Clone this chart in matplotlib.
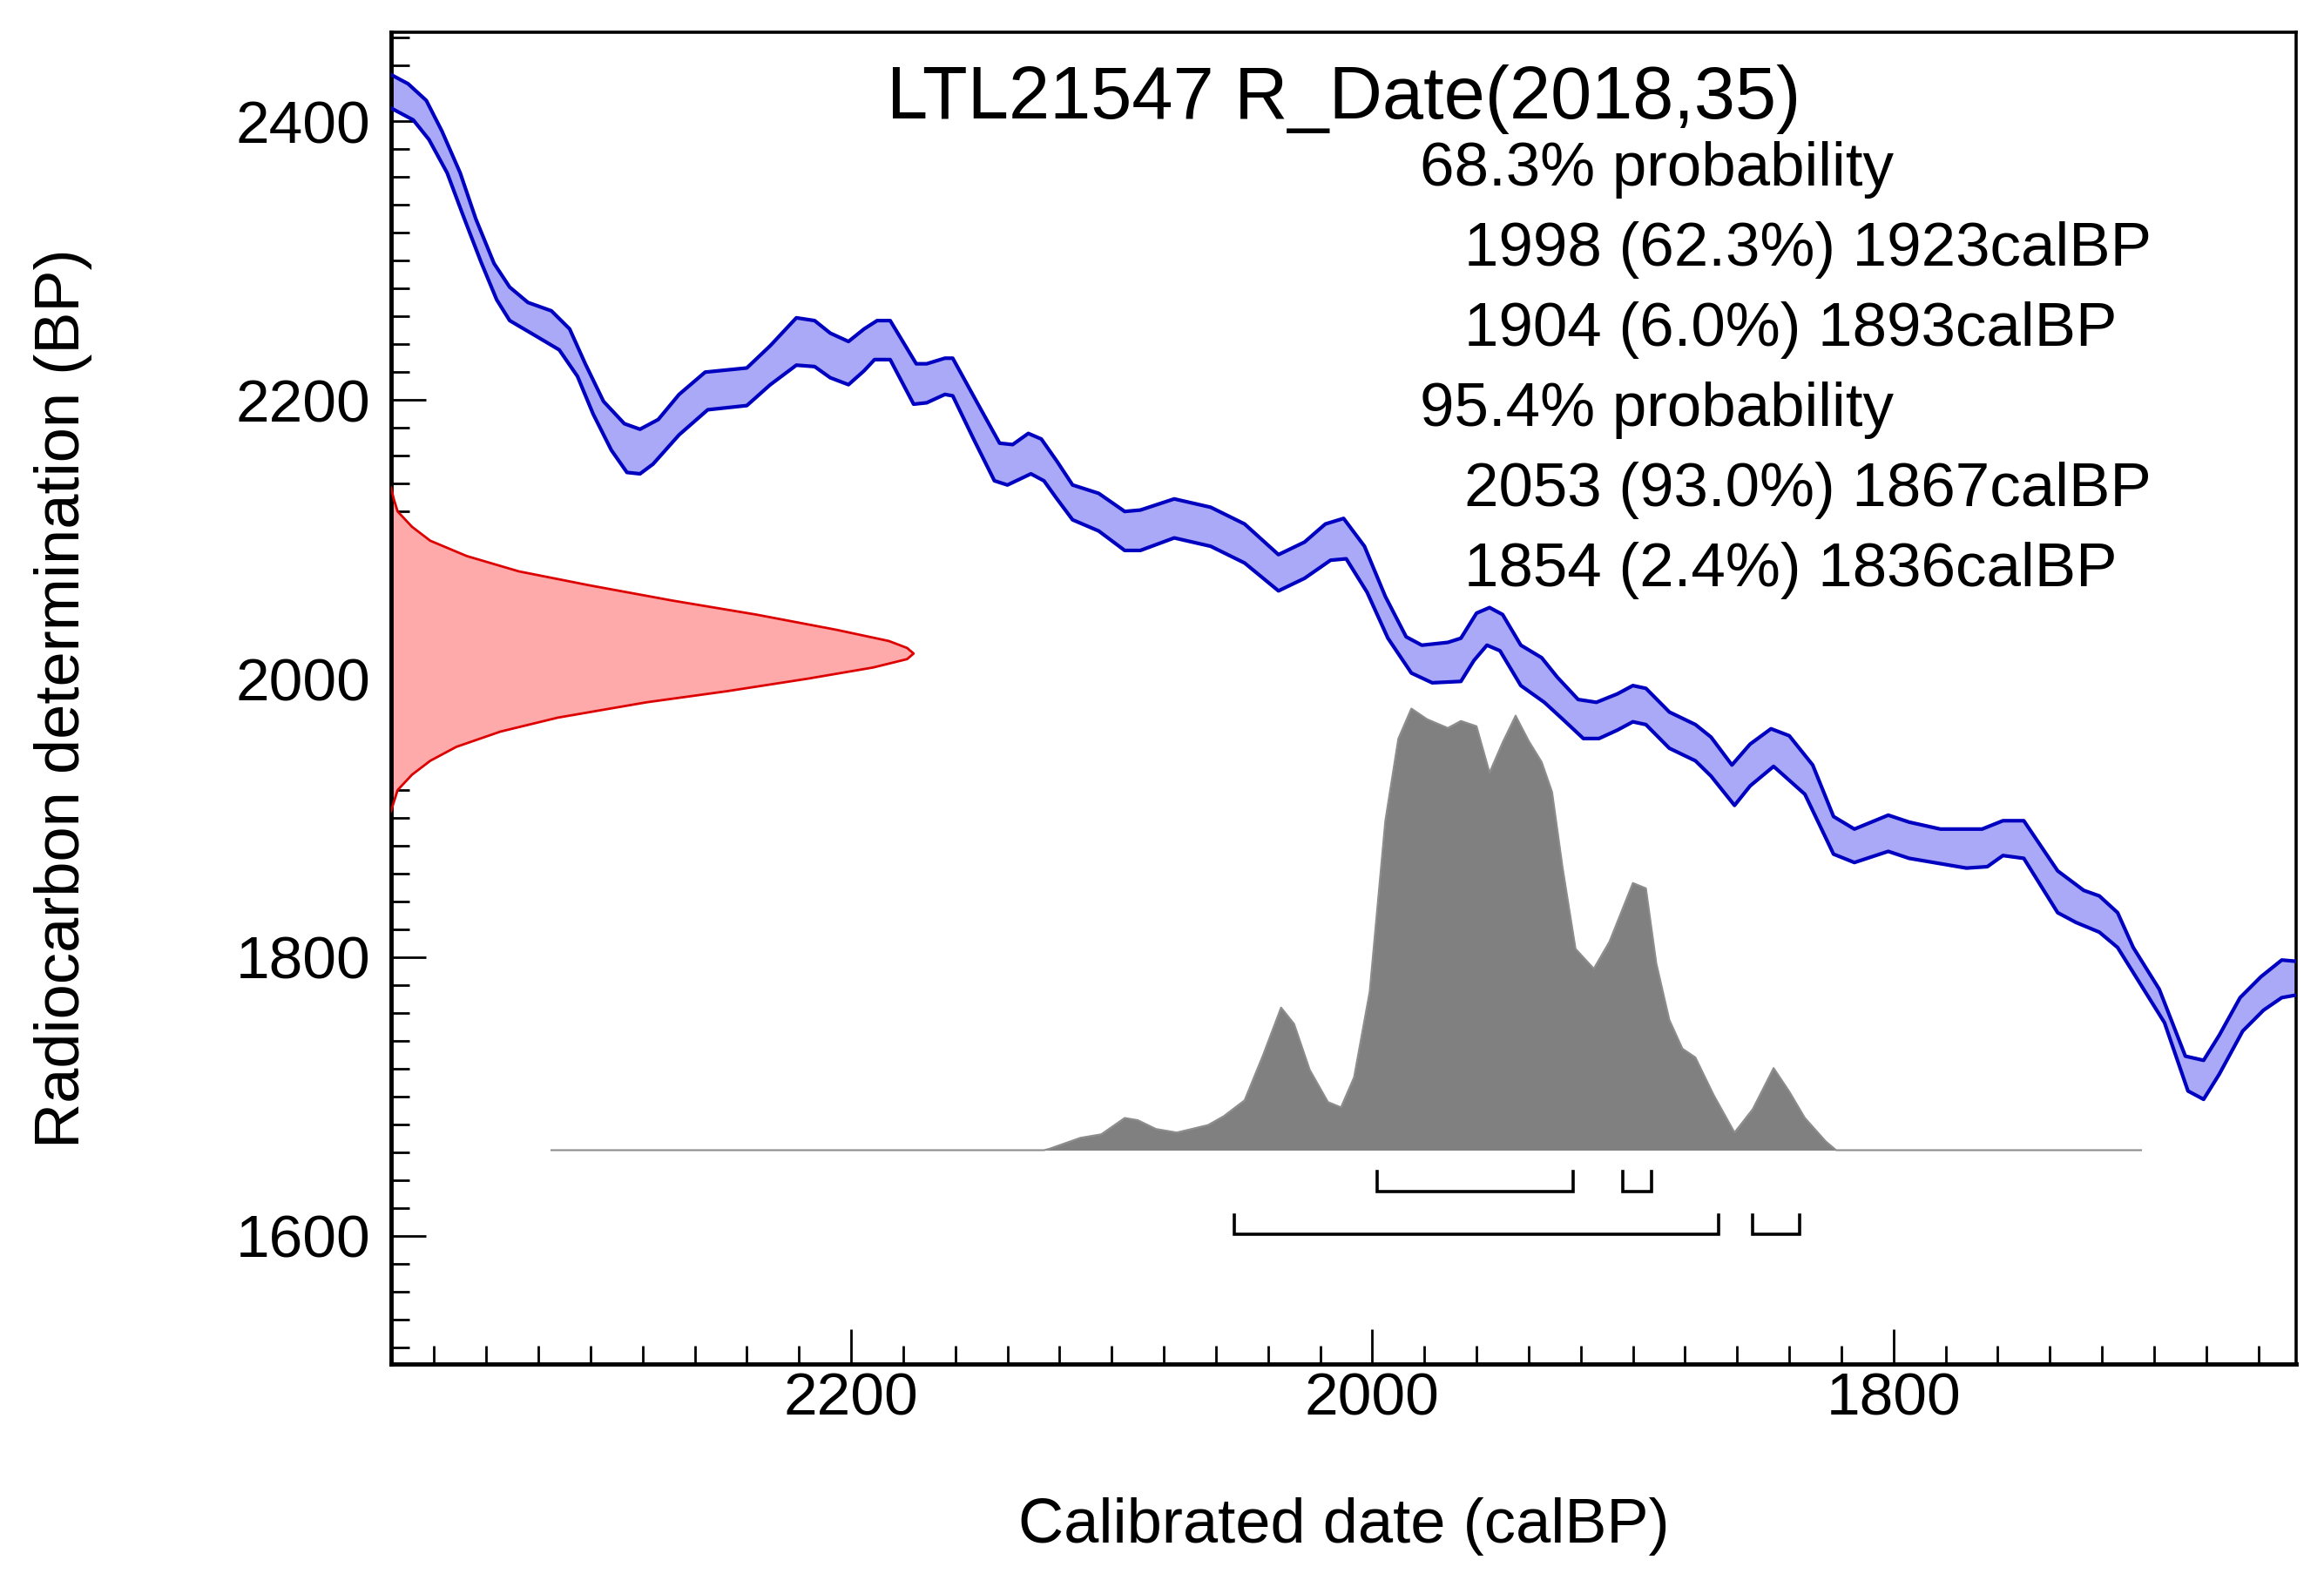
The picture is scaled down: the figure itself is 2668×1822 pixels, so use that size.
import matplotlib
matplotlib.use("Agg")
import matplotlib.pyplot as plt
from matplotlib.ticker import MultipleLocator

plt.rcParams["font.family"] = ["Liberation Sans", "DejaVu Sans"]

# calibration curve band, upper edge (calBP, BP)
curve_hi_x = [2377, 2370, 2363, 2357, 2350, 2344, 2337, 2331, 2324, 2315, 2308, 2302, 2295,
              2287, 2281, 2274, 2266, 2256, 2240, 2231, 2221, 2214, 2208, 2201, 2195, 2190,
              2185, 2175, 2171, 2164, 2161, 2151, 2143, 2138, 2132, 2127, 2121, 2115, 2105,
              2095, 2089, 2076, 2062, 2049, 2036, 2026, 2018, 2011, 2003, 1995, 1987, 1981,
              1971, 1966, 1960, 1955, 1950, 1943, 1935, 1929, 1921, 1914, 1906, 1900, 1895,
              1886, 1876, 1870, 1862, 1855, 1847, 1840, 1831, 1823, 1815, 1802, 1794, 1782,
              1766, 1758, 1750, 1737, 1727, 1721, 1714, 1708, 1698, 1688, 1681, 1675, 1667,
              1659, 1651, 1645]
curve_hi_y = [2434, 2427, 2415, 2393, 2363, 2330, 2298, 2281, 2270, 2264, 2251, 2226, 2199,
              2183, 2179, 2186, 2204, 2220, 2223, 2239, 2259, 2257, 2248, 2242, 2251, 2257,
              2257, 2226, 2226, 2230, 2230, 2196, 2169, 2168, 2176, 2172, 2156, 2139, 2133,
              2120, 2121, 2129, 2123, 2111, 2089, 2098, 2111, 2115, 2095, 2059, 2030, 2024,
              2026, 2029, 2047, 2051, 2046, 2024, 2015, 2001, 1985, 1983, 1989, 1995, 1993,
              1976, 1967, 1958, 1938, 1953, 1964, 1959, 1938, 1901, 1892, 1902, 1897, 1892,
              1892, 1898, 1898, 1862, 1848, 1844, 1832, 1807, 1777, 1729, 1726, 1744, 1771,
              1786, 1798, 1797]

# calibration curve band, lower edge
curve_lo_x = [2377, 2368, 2362, 2355, 2349, 2342, 2336, 2331, 2321, 2312, 2305, 2299, 2292,
              2286, 2281, 2276, 2266, 2255, 2240, 2231, 2221, 2214, 2208, 2201, 2195, 2191,
              2185, 2176, 2171, 2164, 2161, 2153, 2145, 2140, 2131, 2126, 2121, 2115, 2105,
              2095, 2089, 2076, 2062, 2049, 2036, 2026, 2016, 2010, 2002, 1994, 1985, 1977,
              1966, 1961, 1956, 1951, 1943, 1934, 1927, 1919, 1913, 1906, 1900, 1895, 1886,
              1876, 1870, 1861, 1855, 1846, 1834, 1823, 1815, 1802, 1794, 1772, 1764, 1758,
              1750, 1737, 1730, 1721, 1714, 1696, 1687, 1681, 1675, 1666, 1658, 1651, 1645]
curve_lo_y = [2410, 2401, 2387, 2363, 2333, 2299, 2272, 2257, 2246, 2236, 2217, 2190, 2164,
              2148, 2147, 2154, 2175, 2193, 2196, 2211, 2225, 2224, 2216, 2211, 2221, 2229,
              2229, 2197, 2198, 2204, 2203, 2172, 2142, 2139, 2147, 2142, 2129, 2114, 2106,
              2092, 2092, 2101, 2095, 2083, 2063, 2072, 2085, 2086, 2062, 2029, 2004, 1997,
              1998, 2013, 2024, 2020, 1995, 1983, 1971, 1957, 1957, 1963, 1969, 1967, 1950,
              1941, 1930, 1909, 1923, 1937, 1917, 1874, 1868, 1876, 1871, 1864, 1865, 1873,
              1871, 1832, 1825, 1818, 1807, 1753, 1704, 1698, 1716, 1747, 1762, 1771, 1773]

# R_Date(2018,35): radiocarbon likelihood, width in years off the left axis
date_bp = [2137, 2129, 2120, 2109, 2099, 2088, 2077, 2067, 2056, 2046, 2035, 2027, 2022,
           2018, 2014, 2008, 2000, 1991, 1983, 1972, 1962, 1951, 1941, 1931, 1920, 1910, 1905]
date_w = [0, 1, 2.5, 8, 15, 29, 49, 76, 108, 140, 171, 191, 198,
          200.5, 198, 185, 160, 129, 98, 64, 42, 25, 15, 8, 2.5, 0.8, 0]

# calibrated distribution, % of its peak
post_x = [2315, 2126, 2124, 2112, 2104, 2095, 2090, 2083, 2075, 2063, 2057, 2049, 2042,
          2035, 2030, 2024, 2017, 2012, 2007, 2001, 1995, 1990, 1985, 1979, 1971, 1966,
          1960, 1955, 1950, 1945, 1940, 1935, 1931, 1927, 1922, 1915, 1909, 1900, 1895,
          1891, 1886, 1881, 1876, 1869, 1861, 1854, 1846, 1840, 1834, 1826, 1822, 1705]
post_p = [0, 0, 0.3, 2.8, 3.6, 7.3, 6.8, 4.8, 4.0, 5.7, 7.7, 11.3, 21.4,
          32.3, 28.6, 18.2, 10.9, 9.7, 16.5, 35.9, 74.6, 93.2, 100, 97.6, 95.6, 97.2,
          96, 85.5, 92.3, 98.4, 92.7, 87.9, 81.1, 64.1, 45.6, 41.1, 47.2, 60.5, 59.3,
          42.3, 29.5, 23, 21, 12.5, 4, 9.3, 18.6, 13.3, 7.3, 2, 0, 0]

title = "LTL21547 R_Date(2018,35)"
# (from, percent, to)
range_68 = [(1998, 62.3, 1923), (1904, 6.0, 1893)]
range_95 = [(2053, 93.0, 1867), (1854, 2.4, 1836)]

xlim = (2376.5, 1645.5)
ylim = (1508, 2464)
post_base = 1661.5
post_height = 317

fig = plt.figure(figsize=(26.68, 18.22), dpi=100)
ax = fig.add_axes([0.1683, 0.1405, 0.8197, 0.8392])
ax.set_xlim(*xlim)
ax.set_ylim(*ylim)

# calibration curve
band_x = curve_hi_x + curve_lo_x[::-1]
band_y = curve_hi_y + curve_lo_y[::-1]
ax.fill(band_x, band_y, color="#a9a9f8", lw=0, zorder=2)
for cx, cy in [(curve_hi_x, curve_hi_y), (curve_lo_x, curve_lo_y)]:
    ax.plot(cx, cy, color="#0000c0", lw=3.0, solid_joinstyle="round", zorder=3)

# radiocarbon date on the y axis
left = xlim[0]
red_x = [left - w for w in date_w]
ax.fill_betweenx(date_bp, left, red_x, color="#ffaaaa", lw=0, zorder=2)
ax.plot(red_x, date_bp, color="#dd0000", lw=2.0, solid_joinstyle="round", zorder=3)

# calibrated date
post_y = [post_base + p / 100 * post_height for p in post_p]
ax.fill_between(post_x, post_base, post_y, color="#808080", lw=0, zorder=2)
ax.plot(post_x, post_y, color="#8c8c8c", lw=1.5, zorder=2)

# range brackets
def bracket(ranges, y, h=14):
    for a, _, b in ranges:
        ax.plot([a, a, b, b], [y + h, y, y, y + h], color="black", lw=2.6,
                solid_joinstyle="miter", zorder=3)

bracket(range_68, 1632)
bracket(range_95, 1601)

# text block
ax.text(0.5, 0.935, title, transform=ax.transAxes, ha="center", va="baseline", fontsize=61)
lines = [("68.3% probability", False)]
lines += [(f"{a} ({p:.1f}%) {b}calBP", True) for a, p, b in range_68]
lines += [("95.4% probability", False)]
lines += [(f"{a} ({p:.1f}%) {b}calBP", True) for a, p, b in range_95]
y0, dy = 0.8849, 0.0602
for i, (s, indent) in enumerate(lines):
    ax.text(0.5633 if indent else 0.540, y0 - i * dy, s, transform=ax.transAxes,
            ha="left", va="baseline", fontsize=51)

# axes
ax.xaxis.set_major_locator(MultipleLocator(200))
ax.xaxis.set_minor_locator(MultipleLocator(20))
ax.yaxis.set_major_locator(MultipleLocator(200))
ax.yaxis.set_minor_locator(MultipleLocator(20))
ax.tick_params(which="both", direction="in", top=False, right=False, width=2, labelsize=50)
ax.tick_params(which="major", length=29)
ax.tick_params(which="minor", length=15)
ax.tick_params(axis="y", pad=17)
ax.tick_params(axis="x", pad=6)
for side in ["left", "bottom"]:
    ax.spines[side].set_linewidth(3.5)
for side in ["top", "right"]:
    ax.spines[side].set_linewidth(2.6)

ax.set_xlabel("Calibrated date (calBP)", fontsize=52)
ax.set_ylabel("Radiocarbon determination (BP)", fontsize=52)
ax.xaxis.set_label_coords(0.5, -0.10)
ax.yaxis.set_label_coords(-0.157, 0.5)

fig.savefig("out.png", dpi=100)
